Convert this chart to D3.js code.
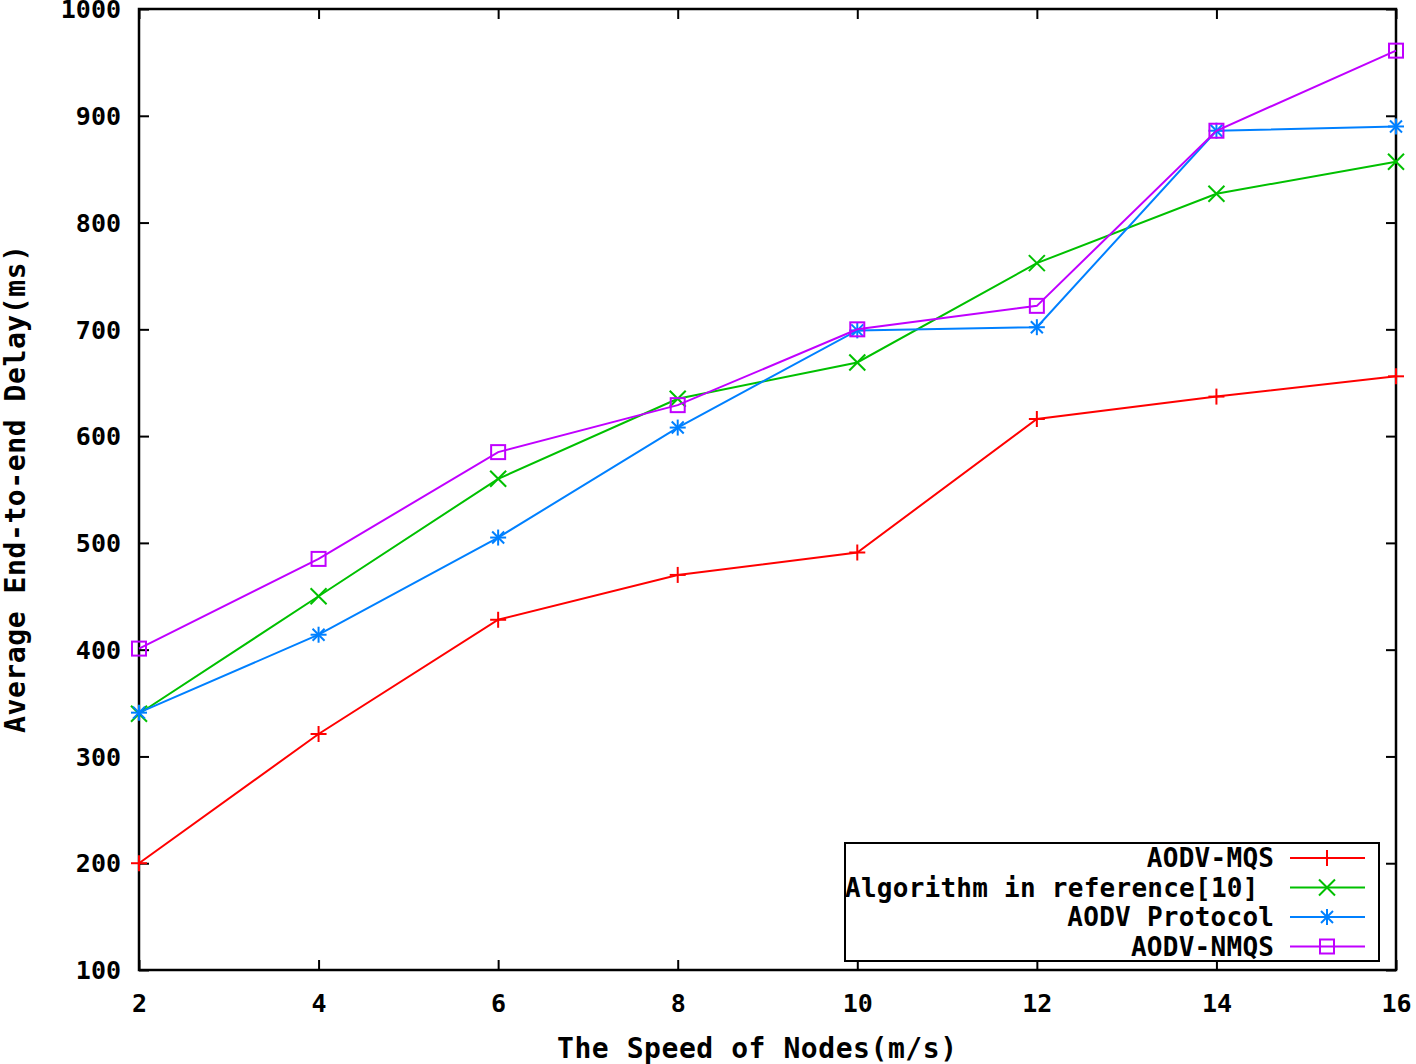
<!DOCTYPE html>
<html>
<head>
<meta charset="utf-8">
<script src="https://cdn.jsdelivr.net/npm/d3@7"></script>
<style>
body { margin: 0; background: #fff; }
text { font-family: "DejaVu Sans Mono", "Liberation Mono", monospace; font-weight: bold; fill: #000; }
</style>
</head>
<body>
<div id="chart"></div>
<script>
// data
var speeds = [2, 4, 6, 8, 10, 12, 14, 16];
var mqs = [200, 321, 428, 470, 491, 616, 637, 656];
var ref10 = [340, 450, 560, 635, 669, 762, 827, 857];
var aodv = [341, 414, 505, 608, 699, 702, 886, 890];
var nmqs = [401, 485, 585, 629, 700, 722, 886, 961];
var yTicks = [100, 200, 300, 400, 500, 600, 700, 800, 900, 1000];
var xTicks = [2, 4, 6, 8, 10, 12, 14, 16];

var series = [
  {name: "AODV-MQS", vals: mqs, color: "#ff0000", mark: "plus"},
  {name: "Algorithm in reference[10]", vals: ref10, color: "#00c000", mark: "cross"},
  {name: "AODV Protocol", vals: aodv, color: "#0080ff", mark: "star"},
  {name: "AODV-NMQS", vals: nmqs, color: "#c000ff", mark: "square"}
];

var W = 1416, H = 1064;
var pLeft = 139, pRight = 1396, pTop = 9, pBottom = 970;

var svg = d3.select("#chart").append("svg")
    .attr("width", W)
    .attr("height", H);

var x = d3.scaleLinear().domain([2, 16]).range([pLeft, pRight]);
var y = d3.scaleLinear().domain([100, 1000]).range([pBottom, pTop]);
var fmt = d3.format("d");

// ticks, pointing inwards on every side
svg.append("g")
    .attr("transform", "translate(" + pLeft + ",0)")
    .call(d3.axisLeft(y).tickValues(yTicks).tickFormat(fmt).tickSize(-10).tickPadding(18))
    .call(function(g) { g.select(".domain").remove(); })
    .selectAll("text").style("font-size", "25px").attr("dy", "0.35em");
svg.append("g")
    .attr("transform", "translate(" + pRight + ",0)")
    .call(d3.axisRight(y).tickValues(yTicks).tickSize(-10).tickFormat(""))
    .call(function(g) { g.select(".domain").remove(); });
svg.append("g")
    .attr("transform", "translate(0," + pBottom + ")")
    .call(d3.axisBottom(x).tickValues(xTicks).tickFormat(fmt).tickSize(-10).tickPadding(24))
    .call(function(g) { g.select(".domain").remove(); })
    .selectAll("text").style("font-size", "25px").attr("dy", "0.71em");
svg.append("g")
    .attr("transform", "translate(0," + pTop + ")")
    .call(d3.axisTop(x).tickValues(xTicks).tickSize(-10).tickFormat(""))
    .call(function(g) { g.select(".domain").remove(); });

svg.selectAll(".tick line").attr("stroke", "#000").attr("stroke-width", 2);

svg.append("rect")
    .attr("x", pLeft).attr("y", pTop)
    .attr("width", pRight - pLeft).attr("height", pBottom - pTop)
    .attr("fill", "none").attr("stroke", "#000").attr("stroke-width", 2.5);

function drawMark(g, type, cx, cy, color) {
  var s = 8;
  if (type == "plus" || type == "star") {
    g.append("line").attr("x1", cx - s).attr("x2", cx + s).attr("y1", cy).attr("y2", cy)
      .attr("stroke", color).attr("stroke-width", 2);
    g.append("line").attr("x1", cx).attr("x2", cx).attr("y1", cy - s).attr("y2", cy + s)
      .attr("stroke", color).attr("stroke-width", 2);
  }
  if (type == "cross" || type == "star") {
    var d = type == "star" ? 6 : 8;
    g.append("line").attr("x1", cx - d).attr("x2", cx + d).attr("y1", cy - d).attr("y2", cy + d)
      .attr("stroke", color).attr("stroke-width", 2);
    g.append("line").attr("x1", cx - d).attr("x2", cx + d).attr("y1", cy + d).attr("y2", cy - d)
      .attr("stroke", color).attr("stroke-width", 2);
  }
  if (type == "square") {
    g.append("rect").attr("x", cx - 7).attr("y", cy - 7).attr("width", 14).attr("height", 14)
      .attr("fill", "none").attr("stroke", color).attr("stroke-width", 2);
  }
}

var line = d3.line()
    .x(function(d, i) { return x(speeds[i]); })
    .y(function(d) { return y(d); });

series.forEach(function(s) {
  var g = svg.append("g");
  g.append("path")
    .attr("d", line(s.vals))
    .attr("fill", "none")
    .attr("stroke", s.color)
    .attr("stroke-width", 2);
  s.vals.forEach(function(v, i) {
    drawMark(g, s.mark, x(speeds[i]), y(v), s.color);
  });
});

// legend
var lgX = 845, lgY = 843, lgW = 534, lgH = 118;
var lg = svg.append("g");
lg.append("rect")
    .attr("x", lgX).attr("y", lgY).attr("width", lgW).attr("height", lgH)
    .attr("fill", "#fff").attr("stroke", "#000").attr("stroke-width", 2);
series.forEach(function(s, i) {
  var ly = 858 + i * 29.5;
  var len = s.name.length * 15.9;
  var tx = 1274;
  // long entry sits against the box edge, as in the original
  if (tx - len < lgX + 20) tx = lgX + len;
  lg.append("text")
    .attr("x", tx).attr("y", ly).attr("dy", "0.35em")
    .attr("text-anchor", "end")
    .style("font-size", "26px")
    .attr("textLength", len)
    .text(s.name);
  lg.append("line")
    .attr("x1", 1290).attr("x2", 1365).attr("y1", ly).attr("y2", ly)
    .attr("stroke", s.color).attr("stroke-width", 2);
  drawMark(lg, s.mark, 1327, ly, s.color);
});

// axis titles
svg.append("text")
    .attr("x", 757).attr("y", 1048).attr("dy", "0.35em")
    .attr("text-anchor", "middle")
    .style("font-size", "28px")
    .attr("textLength", 400)
    .text("The Speed of Nodes(m/s)");
svg.append("text")
    .attr("transform", "translate(15,489) rotate(-90)")
    .attr("dy", "0.35em")
    .attr("text-anchor", "middle")
    .style("font-size", "28px")
    .attr("textLength", 488)
    .text("Average End-to-end Delay(ms)");
</script>
</body>
</html>
